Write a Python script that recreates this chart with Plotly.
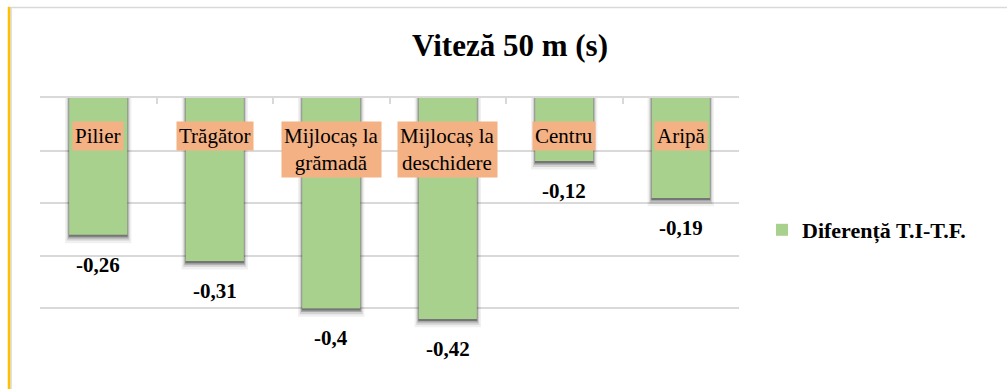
import plotly.graph_objects as go

# Chart data
categories = ["Pilier", "Trăgător", "Mijlocaș la grămadă", "Mijlocaș la deschidere", "Centru", "Aripă"]
category_labels = ["Pilier", "Trăgător", "Mijlocaș la<br>grămadă", "Mijlocaș la<br>deschidere", "Centru", "Aripă"]
differences = [-0.26, -0.31, -0.40, -0.42, -0.12, -0.19]
series_name = "Diferență T.I-T.F."
chart_title = "Viteză 50 m (s)"

W, H = 1007, 389
L, R, T, B = 40, 268, 98, 28
PW, PH = W - L - R, H - T - B

GREEN = "#a9d18e"
ORANGE = "#f4b183"
GRID = "#d9d9d9"
SERIF = "Liberation Serif"


def px_x(px):
    return (px - L) / PW


def px_y(py):
    return (H - B - py) / PH


def fmt(v):
    return f"{v:g}".replace(".", ",")


fig = go.Figure()

# soft drop shadow under each bar
for extra, alpha, width in [(0.016, 0.06, 0.57), (0.011, 0.12, 0.54), (0.007, 0.20, 0.52), (0.004, 0.30, 0.505)]:
    fig.add_trace(go.Bar(
        x=categories, y=[v - extra for v in differences], width=width,
        marker=dict(color=f"rgba(0,0,0,{alpha})", line=dict(width=0)),
        showlegend=False, hoverinfo="skip",
    ))

fig.add_trace(go.Bar(
    x=categories, y=differences, width=0.5, name=series_name,
    marker=dict(color=GREEN, line=dict(width=0)),
))

# category labels in orange boxes near the axis
for cat, lab in zip(categories, category_labels):
    fig.add_annotation(
        x=cat, y=0, xref="x", yref="y", text=lab, showarrow=False,
        yanchor="top", yshift=-23, bgcolor=ORANGE, borderpad=2,
        font=dict(family=SERIF, size=21, color="black"),
    )

# value labels below bar ends
for cat, v in zip(categories, differences):
    fig.add_annotation(
        x=cat, y=v, xref="x", yref="y", text=f"<b>{fmt(v)}</b>", showarrow=False,
        yanchor="middle", yshift=-30,
        font=dict(family=SERIF, size=21, color="black"),
    )

# outer chart frame: grey top edge and yellow/grey left edge
fig.add_shape(type="line", xref="paper", yref="paper",
              x0=px_x(8), x1=px_x(1007), y0=px_y(7.5), y1=px_y(7.5),
              line=dict(color=GRID, width=1.5))
fig.add_shape(type="line", xref="paper", yref="paper",
              x0=px_x(11), x1=px_x(11), y0=px_y(7), y1=px_y(389),
              line=dict(color=GRID, width=1.5))
fig.add_shape(type="line", xref="paper", yref="paper",
              x0=px_x(9), x1=px_x(9), y0=px_y(7), y1=px_y(389),
              line=dict(color="#ffc000", width=2.5))

fig.update_layout(
    width=W, height=H,
    margin=dict(l=L, r=R, t=T, b=B),
    paper_bgcolor="white", plot_bgcolor="white",
    font=dict(family=SERIF),
    barmode="overlay", bargap=0.5,
    title=dict(text=f"<b>{chart_title}</b>", x=510 / W, xanchor="center",
               y=1 - 45 / H, yanchor="middle", yref="container",
               font=dict(family=SERIF, size=31, color="black")),
    showlegend=True,
    legend=dict(x=px_x(762), y=px_y(230), xanchor="left", yanchor="middle",
                bgcolor="rgba(0,0,0,0)", borderwidth=0,
                font=dict(family=SERIF, size=22, color="black", weight="bold")),
    xaxis=dict(type="category", side="top", showline=True, linecolor=GRID, linewidth=2,
               ticks="inside", ticklen=6, tickcolor=GRID, tickwidth=2, tickson="boundaries",
               showticklabels=False, showgrid=False, zeroline=False, fixedrange=True),
    yaxis=dict(range=[-0.5, 0], dtick=0.1, showgrid=True, gridcolor=GRID, gridwidth=1.5,
               showticklabels=False, zeroline=False, showline=False, fixedrange=True),
)

fig.write_html("out.html")
